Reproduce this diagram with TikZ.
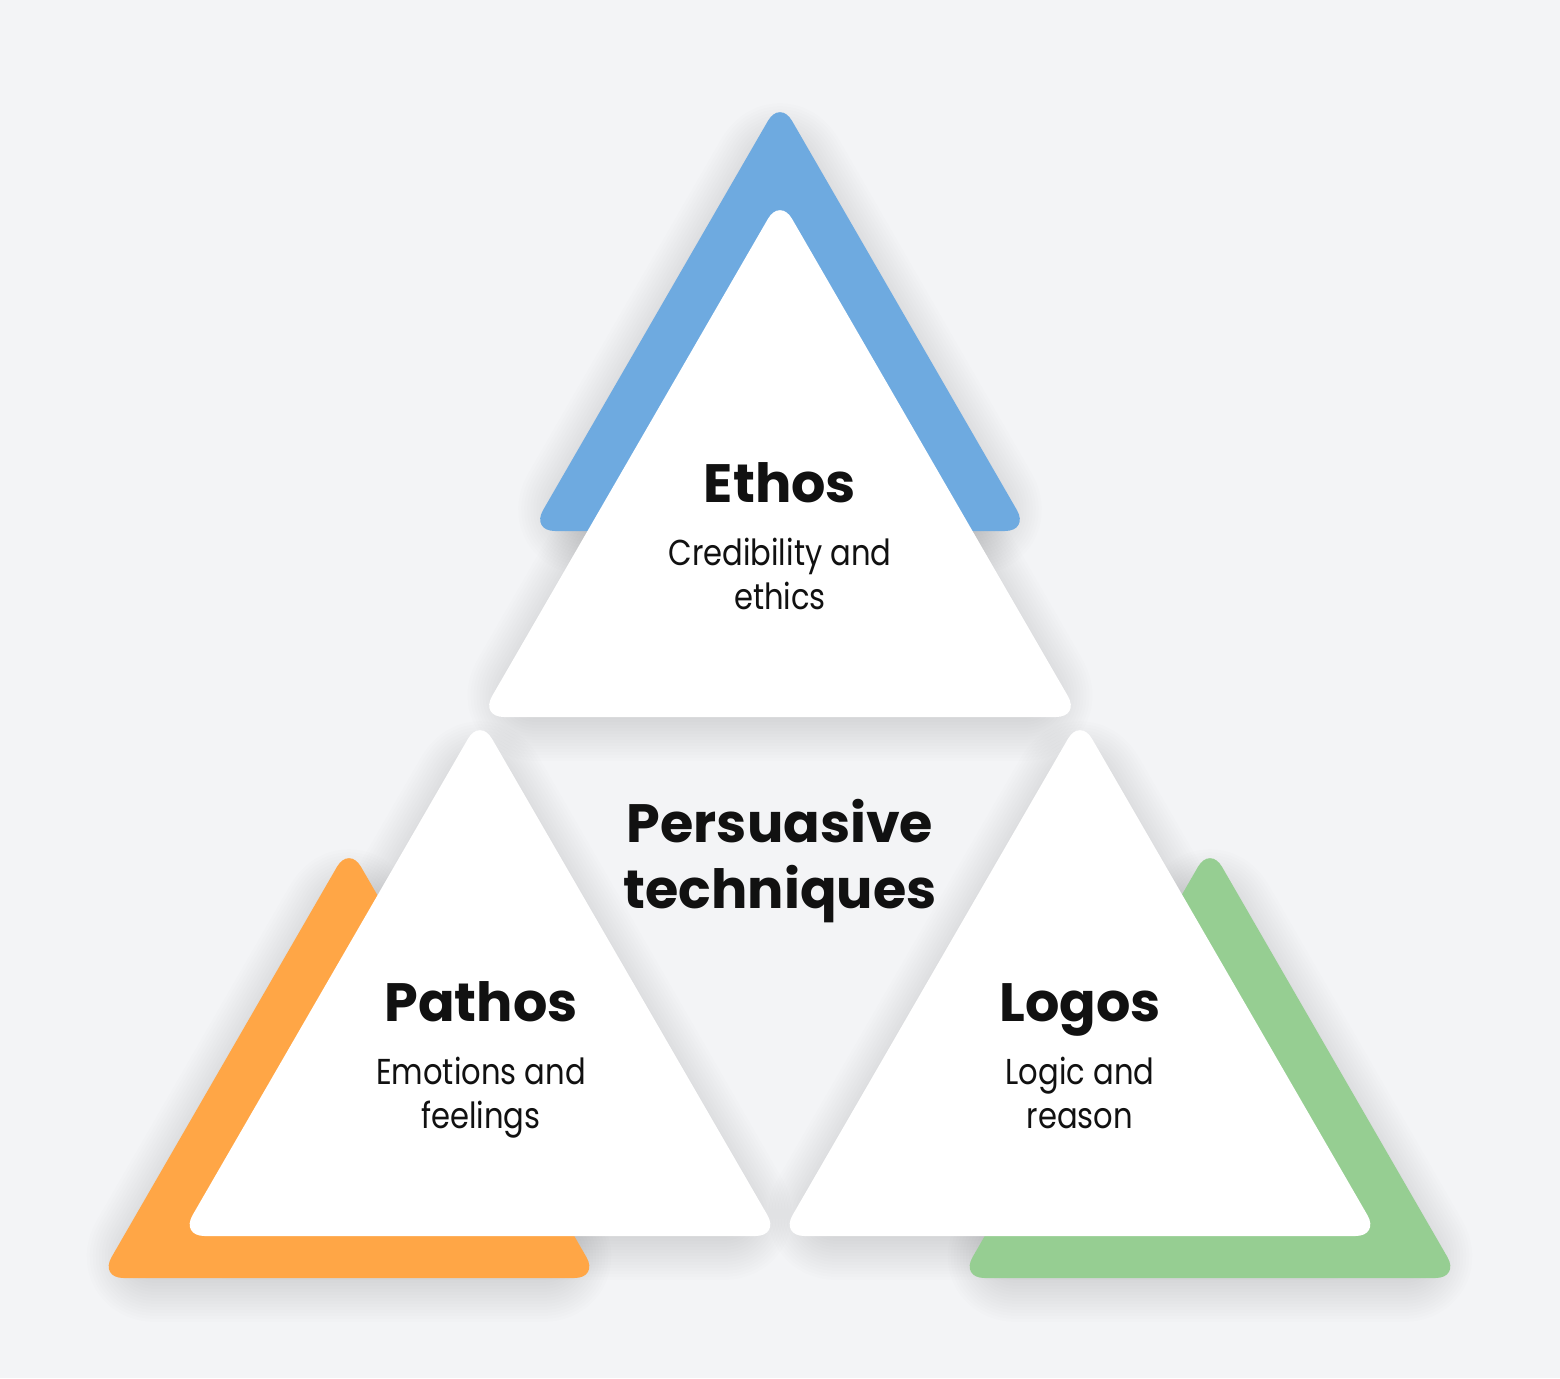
\documentclass[tikz,border=0pt]{standalone}
\usepackage{fontspec}
\setmainfont{Poppins}
\newfontfamily\subfont[FakeStretch=0.85]{Poppins}
\definecolor{bg}{HTML}{F3F4F6}
\definecolor{eblue}{HTML}{6EAAE0}
\definecolor{porange}{HTML}{FFA646}
\definecolor{lgreen}{HTML}{96CE92}
\definecolor{ink}{HTML}{111111}
\definecolor{shadowc}{HTML}{1F2937}
\begin{document}
\begin{tikzpicture}[x=0.5pt,y=-0.5pt,
  tri/.style={rounded corners=12pt},
  shadring/.style={tri, draw=shadowc, fill=shadowc, line join=round, draw opacity=0.008, fill opacity=0.008},
  title/.style={font={\fontsize{27}{33}\selectfont\bfseries}, text=ink, inner sep=0pt, align=center},
  sub/.style={font={\subfont\fontsize{18}{22}\selectfont}, text=ink, inner sep=0pt, align=center}]
\fill[bg] (0,0) rectangle (1560,1378);
\useasboundingbox (0,0) rectangle (1560,1378);
% soft shadow pass: inset triangles, shifted down, with stacked translucent outlines
\foreach \cx/\ay/\by/\h in {780/100/531/249, 349/846/1278/249.5, 1210/846/1278/249.5,
                            780/198/717/299.7, 480/718/1236/299.2, 1080/718/1236/299.2}{
  \foreach \w in {3,6,...,54}{
    \draw[shadring, line width=\w pt] (\cx,\ay+45) -- (\cx+\h-32,\by-10) -- (\cx-\h+32,\by-10) -- cycle;
  }
}
% coloured triangles
\fill[tri, eblue] (780,100) -- (1029,531) -- (531,531) -- cycle;
\fill[tri, porange] (349,846) -- (598.5,1278) -- (99.5,1278) -- cycle;
\fill[tri, lgreen] (1210,846) -- (1459.5,1278) -- (960.5,1278) -- cycle;
% white triangles
\fill[tri, white] (780,198) -- (1080,717) -- (480,717) -- cycle;
\fill[tri, white] (480,718) -- (779.5,1236) -- (180.5,1236) -- cycle;
\fill[tri, white] (1080,718) -- (1379.5,1236) -- (780.5,1236) -- cycle;
% texts
\node[title, anchor=base] (ethos) at (780,502) {Ethos};
\node[sub, anchor=base] (ethosd) at (780,609) {Credibility and\\ethics};
\node[title, anchor=base] (center) at (780,908) {Persuasive\\techniques};
\node[title, anchor=base] (pathos) at (481,1021) {Pathos};
\node[sub, anchor=base] (pathosd) at (481,1128) {Emotions and\\feelings};
\node[title, anchor=base] (logos) at (1080,1021) {Logos};
\node[sub, anchor=base] (logosd) at (1080,1128) {Logic and\\reason};
\end{tikzpicture}
\end{document}
